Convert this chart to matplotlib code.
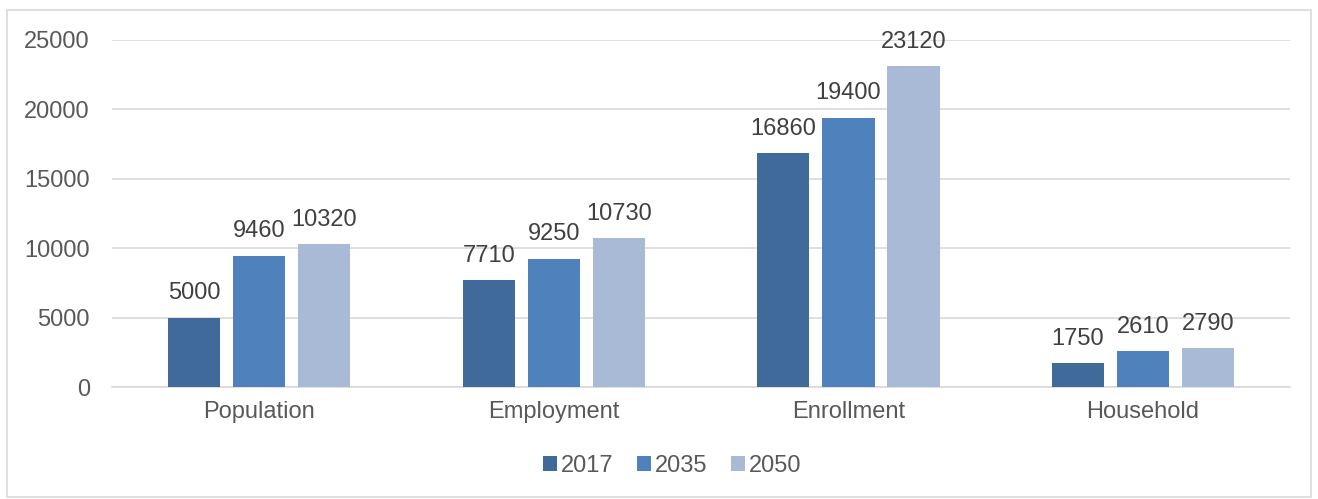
import numpy as np
import matplotlib
matplotlib.use("Agg")
import matplotlib.pyplot as plt
from matplotlib.patches import Rectangle

categories = ["Population", "Employment", "Enrollment", "Household"]
years = ["2017", "2035", "2050"]
v2017 = [5000, 7710, 16860, 1750]
v2035 = [9460, 9250, 19400, 2610]
v2050 = [10320, 10730, 23120, 2790]

plt.rcParams['font.family'] = ['Liberation Sans', 'DejaVu Sans']

colors = ["#3F6A9A", "#4F81BD", "#A9BAD7"]
series = [v2017, v2035, v2050]

fig = plt.figure(figsize=(13.18, 4.99), dpi=100)
ax = fig.add_axes([0.085, 0.2244, 0.894, 0.6956])

# Rahmen um die ganze Grafik
fig.patches.append(Rectangle((7 / 1318, 2 / 499), 1304 / 1318, 487 / 499,
                             transform=fig.transFigure, fill=False,
                             edgecolor="#D9D9D9", linewidth=1.2))

x = np.arange(len(categories))
width = 0.177
step = 0.221
for k, (vals, col, lab) in enumerate(zip(series, colors, years)):
    pos = x + (k - 1) * step
    bars = ax.bar(pos, vals, width, color=col, label=lab, zorder=3)
    for b, v in zip(bars, vals):
        ax.annotate(str(v), (b.get_x() + b.get_width() / 2, v),
                    xytext=(0, 9.5), textcoords="offset points",
                    ha="center", va="bottom", fontsize=17, color="#404040")

ax.set_xlim(-0.5, len(categories) - 0.5)
ax.set_ylim(0, 25000)
ax.set_yticks(range(0, 25001, 5000))
ax.set_xticks(x)
ax.set_xticklabels(categories)
ax.tick_params(axis="both", length=0, labelsize=17, labelcolor="#595959")
ax.tick_params(axis="y", pad=16)
ax.tick_params(axis="x", pad=10)
ax.grid(axis="y", color="#D9D9D9", linewidth=1.2, zorder=0)
for s in ["top", "right", "left"]:
    ax.spines[s].set_visible(False)
ax.spines["bottom"].set_color("#D9D9D9")
ax.spines["bottom"].set_linewidth(1.2)

leg = ax.legend(loc="center", bbox_to_anchor=(672 / 1318, 1 - 466 / 499),
                bbox_transform=fig.transFigure, ncol=3, frameon=False,
                fontsize=17, handlelength=0.6, handleheight=0.6,
                handletextpad=0.15, columnspacing=1.0)
for t in leg.get_texts():
    t.set_color("#595959")

plt.savefig("out.png", dpi=100)
